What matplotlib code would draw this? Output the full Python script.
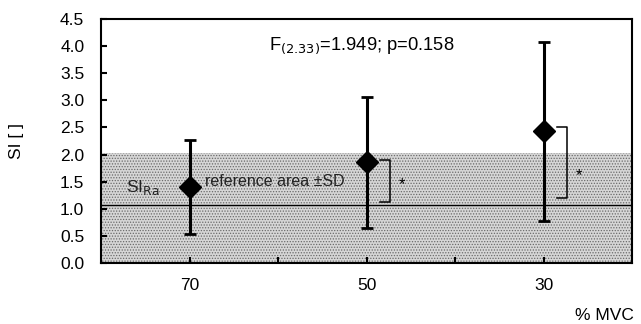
import matplotlib
matplotlib.use("Agg")
import matplotlib.pyplot as plt
import numpy as np

# data
mvc_labels = ["70", "50", "30"]
si_mean = [1.40, 1.86, 2.43]
si_sd = [0.87, 1.21, 1.65]
ref_upper = 2.02      # top of reference area (+SD)
si_ra = 1.07          # reference SI line
# significance brackets: (top, bottom) per pair
bracket_top = [1.90, 2.50]
bracket_bottom = [1.13, 1.19]
bracket_star_y = [1.49, 1.67]

plt.rcParams["font.family"] = ["Liberation Sans", "DejaVu Sans"]
plt.rcParams["hatch.color"] = "#606060"
plt.rcParams["hatch.linewidth"] = 0.6

fs = 12.5
fig = plt.figure(figsize=(6.41, 3.24), dpi=100)
ax = fig.add_axes([101 / 641, 1 - 263 / 324, 531 / 641, 244 / 324])

x = np.arange(len(mvc_labels))
ax.set_xlim(-0.5, len(mvc_labels) - 0.5)
ax.set_ylim(0, 4.5)

# reference area
ax.fill_between([-0.5, len(mvc_labels) - 0.5], 0, ref_upper,
                facecolor="#d6d6d6", hatch="......", edgecolor="#6a6a6a",
                linewidth=0, zorder=0)
ax.axhline(si_ra, color="black", linewidth=1.0, zorder=1)

ax.errorbar(x, si_mean, yerr=si_sd, fmt="D", color="black", markersize=11,
            elinewidth=2.2, capsize=4, capthick=2, zorder=3)

# brackets with stars (50 vs ref, 30 vs ref)
for i, (top, bot, sy) in enumerate(zip(bracket_top, bracket_bottom, bracket_star_y)):
    xi = x[i + 1]
    x0, x1 = xi + 0.075, xi + 0.13
    ax.plot([x0, x1, x1, x0], [top, top, bot, bot], color="black",
            linewidth=1.1, zorder=2)
    ax.text(xi + 0.2, sy - 0.05, "*", ha="center", va="center", fontsize=12)

ax.text(0.45, 4.0, r"F$_{(2.33)}$=1.949; p=0.158", fontsize=13.2,
        ha="left", va="center")
ax.text(-0.36, 1.40, r"SI$_{\mathrm{Ra}}$", fontsize=fs, ha="left",
        va="center", color="#222222")
ax.text(0.09, 1.50, "reference area \u00b1SD", fontsize=11.5, ha="left",
        va="center", color="#222222")

ax.set_xticks(x)
ax.set_xticklabels(mvc_labels)
ax.set_xticks(x[:-1] + 0.5, minor=True)
ax.set_yticks(np.arange(0, 4.51, 0.5))
ax.set_yticklabels([f"{v:.1f}" for v in np.arange(0, 4.51, 0.5)])
ax.tick_params(axis="both", which="both", direction="in", length=4,
               width=1.5, labelsize=fs)
ax.tick_params(axis="x", which="major", pad=11)
ax.tick_params(axis="y", pad=12)
for s in ax.spines.values():
    s.set_linewidth(1.5)

ax.set_ylabel("SI [ ]", fontsize=fs, labelpad=26)
fig.text(604 / 641, 1 - 315 / 324, "% MVC", fontsize=fs, ha="center",
         va="center")

fig.savefig("out.png", dpi=100)
